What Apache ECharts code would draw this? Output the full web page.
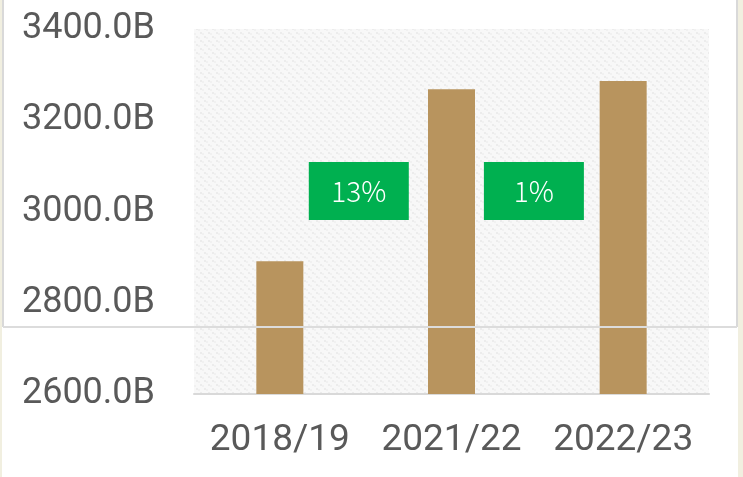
<!DOCTYPE html>
<html>
<head>
<meta charset="utf-8">
<script src="https://cdn.jsdelivr.net/npm/echarts@6/dist/echarts.min.js"></script>
<style>
  html, body { margin: 0; padding: 0; background: #fff; }
  #chart { width: 743px; height: 477px; }
</style>
</head>
<body>
<div id="chart"></div>
<script>
var categories = ['2018/19', '2021/22', '2022/23'];
var values = [2891, 3268, 3286];
var yTicks = [2600, 3400, 200];
var growthLabels = ['13%', '1%'];
var growthX = [0.96, 1.98];
var growthY = [3045, 3045];

// light woven texture for the plot background
function makePattern() {
    var c = document.createElement('canvas');
    c.width = 8; c.height = 8;
    var ctx = c.getContext('2d');
    ctx.fillStyle = '#f8f8f8';
    ctx.fillRect(0, 0, 8, 8);
    ctx.fillStyle = '#ececec';
    ctx.fillRect(0, 0, 2, 2);
    ctx.fillRect(4, 4, 2, 2);
    ctx.fillStyle = '#f1f1f1';
    ctx.fillRect(2, 1, 2, 2);
    ctx.fillRect(6, 5, 2, 2);
    return c;
}

var chart = echarts.init(document.getElementById('chart'));

var growthData = growthLabels.map(function (t, i) {
    return { value: [growthX[i], growthY[i]], name: t };
});

chart.setOption({
    animation: false,
    backgroundColor: '#fff',
    textStyle: { fontFamily: 'Roboto, "Liberation Sans", sans-serif' },
    grid: {
        left: 194, right: 34, top: 29, bottom: 83,
        show: true,
        borderWidth: 0,
        backgroundColor: { image: makePattern(), repeat: 'repeat' }
    },
    xAxis: [{
        type: 'category',
        data: categories,
        axisLine: { lineStyle: { color: '#d9d9d9', width: 2 } },
        axisTick: { show: false },
        axisLabel: { color: '#595959', fontSize: 37, margin: 28, interval: 0 }
    }, {
        type: 'value',
        min: 0, max: 3,
        show: false
    }],
    yAxis: {
        type: 'value',
        min: yTicks[0], max: yTicks[1], interval: yTicks[2],
        splitLine: { show: false },
        axisLine: { show: false },
        axisTick: { show: false },
        axisLabel: {
            color: '#595959', fontSize: 36, margin: 39,
            padding: [0, 0, 10, 0],
            formatter: function (v) { return v.toFixed(1) + 'B'; }
        }
    },
    series: [{
        type: 'bar',
        data: values,
        barWidth: 47,
        itemStyle: { color: '#b8945e' }
    }, {
        type: 'scatter',
        xAxisIndex: 1,
        data: growthData,
        symbol: 'rect',
        symbolSize: [100, 58],
        itemStyle: { color: '#00b050', opacity: 1 },
        label: {
            show: true,
            position: 'inside',
            formatter: '{b}',
            color: '#fff',
            fontSize: 28,
            fontWeight: 300,
            fontFamily: '"Noto Sans CJK JP", "Noto Sans", sans-serif'
        },
        z: 5
    }],
    graphic: [
        { type: 'rect', shape: { x: 0, y: 0, width: 2, height: 477 }, style: { fill: '#f1efe0' }, z: 100 },
        { type: 'rect', shape: { x: 738, y: 0, width: 5, height: 477 }, style: { fill: '#f1efe0' }, z: 100 },
        { type: 'line', shape: { x1: 3, y1: 0, x2: 3, y2: 327 }, style: { stroke: '#d9d9d9', lineWidth: 2 }, z: 100 },
        { type: 'line', shape: { x1: 737, y1: 0, x2: 737, y2: 327 }, style: { stroke: '#d9d9d9', lineWidth: 2 }, z: 100 },
        { type: 'line', shape: { x1: 3, y1: 327, x2: 737, y2: 327 }, style: { stroke: '#dcdcdc', lineWidth: 2 }, z: 100 }
    ]
});
</script>
</body>
</html>
